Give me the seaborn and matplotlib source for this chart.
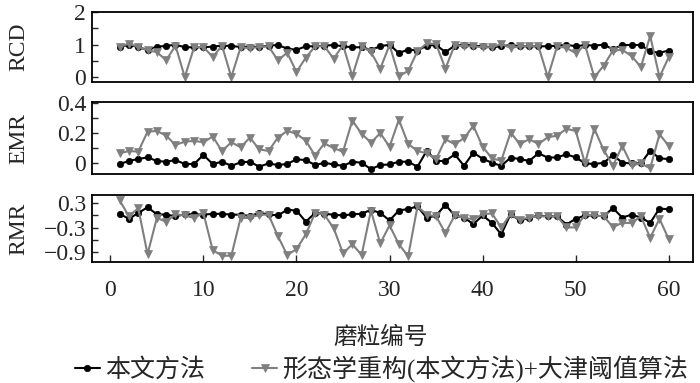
import numpy as np
import pandas as pd
import matplotlib
matplotlib.use("Agg")
import matplotlib.pyplot as plt
import seaborn as sns

# ---------------- data ----------------
grain_id = list(range(1, 61))

rcd_ours = [0.94, 0.99, 0.93, 0.83, 0.94, 0.96, 1.00, 0.92, 0.92, 0.92,
            0.94, 0.97, 0.96, 0.93, 0.94, 0.93, 0.97, 0.99, 0.88, 0.84,
            0.95, 0.95, 0.97, 0.99, 0.95, 0.92, 0.92, 0.84, 0.95, 1.00,
            0.74, 0.85, 0.82, 0.97, 0.99, 0.77, 0.97, 1.00, 0.97, 0.95,
            0.92, 0.95, 0.99, 0.95, 0.95, 0.95, 0.95, 0.97, 1.00, 0.95,
            0.99, 0.97, 1.00, 0.86, 0.99, 0.99, 0.99, 0.79, 0.75, 0.82]
rcd_otsu = [0.94, 1.03, 0.93, 0.83, 0.77, 0.52, 0.97, 0.00, 0.92, 0.93,
            0.62, 0.97, 0.00, 0.92, 0.89, 0.93, 0.95, 0.52, 0.75, 0.16,
            0.60, 0.95, 0.95, 0.57, 0.99, 0.03, 0.95, 0.77, 0.26, 0.99,
            0.03, 0.19, 0.80, 1.04, 1.02, 0.26, 0.99, 0.95, 0.95, 0.92,
            0.92, 1.02, 0.90, 0.95, 0.95, 0.95, 0.00, 0.95, 0.90, 0.74,
            0.99, 0.00, 0.35, 0.82, 0.84, 0.65, 0.31, 1.27, 0.00, 0.62]

emr_ours = [-0.004, 0.016, 0.029, 0.040, 0.016, 0.011, 0.022, -0.004, -0.004, 0.056,
            -0.004, 0.011, -0.016, 0.007, 0.011, -0.022, 0.000, -0.011, -0.004, 0.027,
            0.022, -0.011, 0.004, -0.007, -0.016, 0.011, 0.004, -0.038, -0.011, -0.007,
            0.011, 0.011, -0.022, 0.084, 0.016, 0.016, 0.060, -0.016, 0.071, 0.031,
            0.004, -0.016, 0.038, 0.029, 0.016, 0.067, 0.038, 0.040, 0.060, 0.040,
            0.000, -0.004, 0.004, 0.056, 0.004, 0.000, 0.000, 0.084, 0.033, 0.029]
emr_otsu = [0.067, 0.082, 0.078, 0.210, 0.215, 0.184, 0.122, 0.144, 0.149, 0.140,
            0.178, 0.082, 0.140, 0.107, 0.171, 0.093, 0.082, 0.171, 0.215, 0.196,
            0.151, 0.051, 0.133, 0.100, 0.078, 0.284, 0.196, 0.138, 0.200, 0.111,
            0.289, 0.129, 0.082, 0.067, 0.029, 0.160, 0.127, 0.167, 0.249, 0.110,
            0.033, 0.018, 0.204, 0.129, 0.160, 0.129, 0.173, 0.184, 0.229, 0.215,
            0.000, 0.229, 0.089, -0.016, 0.116, -0.011, 0.000, -0.033, 0.193, 0.116]

rmr_ours = [0.04, -0.08, 0.06, 0.20, 0.03, 0.02, -0.02, 0.03, 0.03, 0.02,
            0.04, 0.04, 0.02, 0.02, -0.01, 0.06, 0.03, 0.00, 0.14, 0.12,
            -0.15, 0.06, 0.04, 0.02, 0.00, 0.03, 0.04, 0.14, 0.06, -0.12,
            0.12, 0.16, 0.22, -0.06, 0.00, 0.26, 0.00, -0.05, -0.21, 0.00,
            -0.18, -0.46, 0.03, -0.12, -0.06, 0.00, -0.02, -0.02, -0.22, -0.08,
            0.00, 0.00, -0.02, 0.18, -0.05, 0.02, -0.05, -0.18, 0.17, 0.15]
rmr_otsu = [0.37, -0.02, 0.18, -0.94, -0.06, -0.15, 0.03, 0.00, -0.06, 0.06,
            -0.84, -0.98, -0.98, -0.06, -0.06, 0.02, 0.02, -0.50, -0.96, -0.82,
            -0.46, 0.06, 0.02, -0.31, -0.92, -0.70, -0.96, 0.12, -0.68, -0.24,
            -0.70, -0.99, 0.22, 0.02, -0.02, -0.43, 0.00, -0.06, -0.09, 0.03,
            0.05, -0.29, 0.03, -0.10, -0.05, -0.02, -0.02, -0.02, -0.29, -0.29,
            0.02, 0.00, -0.02, -0.28, -0.18, -0.18, -0.02, -0.54, -0.08, -0.58]

method_names = ["本文方法", "形态学重构(本文方法)+大津阈值算法"]
xticks = [0, 10, 20, 30, 40, 50, 60]

# ---------------- build table ----------------
rows = []
for name, rcd, emr, rmr in [(method_names[0], rcd_ours, emr_ours, rmr_ours),
                            (method_names[1], rcd_otsu, emr_otsu, rmr_otsu)]:
    for i, a, b, c in zip(grain_id, rcd, emr, rmr):
        rows.append({"id": i, "method": name, "RCD": a, "EMR": b, "RMR": c})
df = pd.DataFrame(rows)

# ---------------- style ----------------
sns.set_style("ticks")
plt.rcParams["font.family"] = ["Liberation Serif", "Noto Sans CJK SC"]
plt.rcParams["axes.unicode_minus"] = True

palette = {method_names[0]: "#000000", method_names[1]: "#7f7f7f"}
markers = {method_names[0]: "o", method_names[1]: "v"}

fig = plt.figure(figsize=(7.0, 3.83), dpi=100)
left, width = 0.131, 0.859
positions = [(0.786, 0.182), (0.545, 0.188), (0.315, 0.176)]
metrics = ["RCD", "EMR", "RMR"]
ylims = [(-0.15, 2.0), (-0.072, 0.405), (-1.14, 0.5)]
yticks = [[0, 0.5, 1, 1.5, 2], [0, 0.1, 0.2, 0.3, 0.4], [-0.9, -0.6, -0.3, 0, 0.3]]
yticklabels = [["0", "", "1", "", "2"], ["0", "", "0.2", "", "0.4"],
               ["\u22120.9", "", "\u22120.3", "", "0.3"]]

axes = []
for k, (m, (b, h)) in enumerate(zip(metrics, positions)):
    ax = fig.add_axes([left, b, width, h])
    for name in method_names:
        sub = df[df["method"] == name]
        sns.lineplot(data=sub, x="id", y=m, ax=ax, color=palette[name],
                     marker=markers[name], markersize=4.6 if name == method_names[0] else 5.5,
                     markeredgewidth=0.5, markeredgecolor=palette[name],
                     linewidth=1.5, label=name, legend=False)
    ax.set_xlim(-2, 62.6)
    ax.set_ylim(*ylims[k])
    ax.set_yticks(yticks[k])
    ax.set_yticklabels(yticklabels[k])
    ax.set_ylabel(m, fontsize=17)
    ax.yaxis.set_label_coords(-0.103, 0.5)
    ax.set_xlabel("")
    ax.tick_params(axis="y", direction="in", length=4, width=1, labelsize=17, pad=4)
    if k < 2:
        ax.tick_params(axis="x", bottom=False, labelbottom=False)
    else:
        ax.set_xticks(xticks)
        ax.tick_params(axis="x", direction="in", length=5, width=1, labelsize=17, pad=13)
    for s in ax.spines.values():
        s.set_linewidth(1.3)
        s.set_color("black")
    axes.append(ax)

fig.text(0.544, 0.118, "磨粒编号", ha="center", va="center", fontsize=17)

handles, labels = axes[0].get_legend_handles_labels()
fig.legend(handles, labels, loc="center", bbox_to_anchor=(0.545, 0.037), ncol=2,
           frameon=False, fontsize=18, handlelength=1.0, handletextpad=0.2,
           columnspacing=1.9, borderpad=0.1)

fig.savefig("out.png", dpi=100)
